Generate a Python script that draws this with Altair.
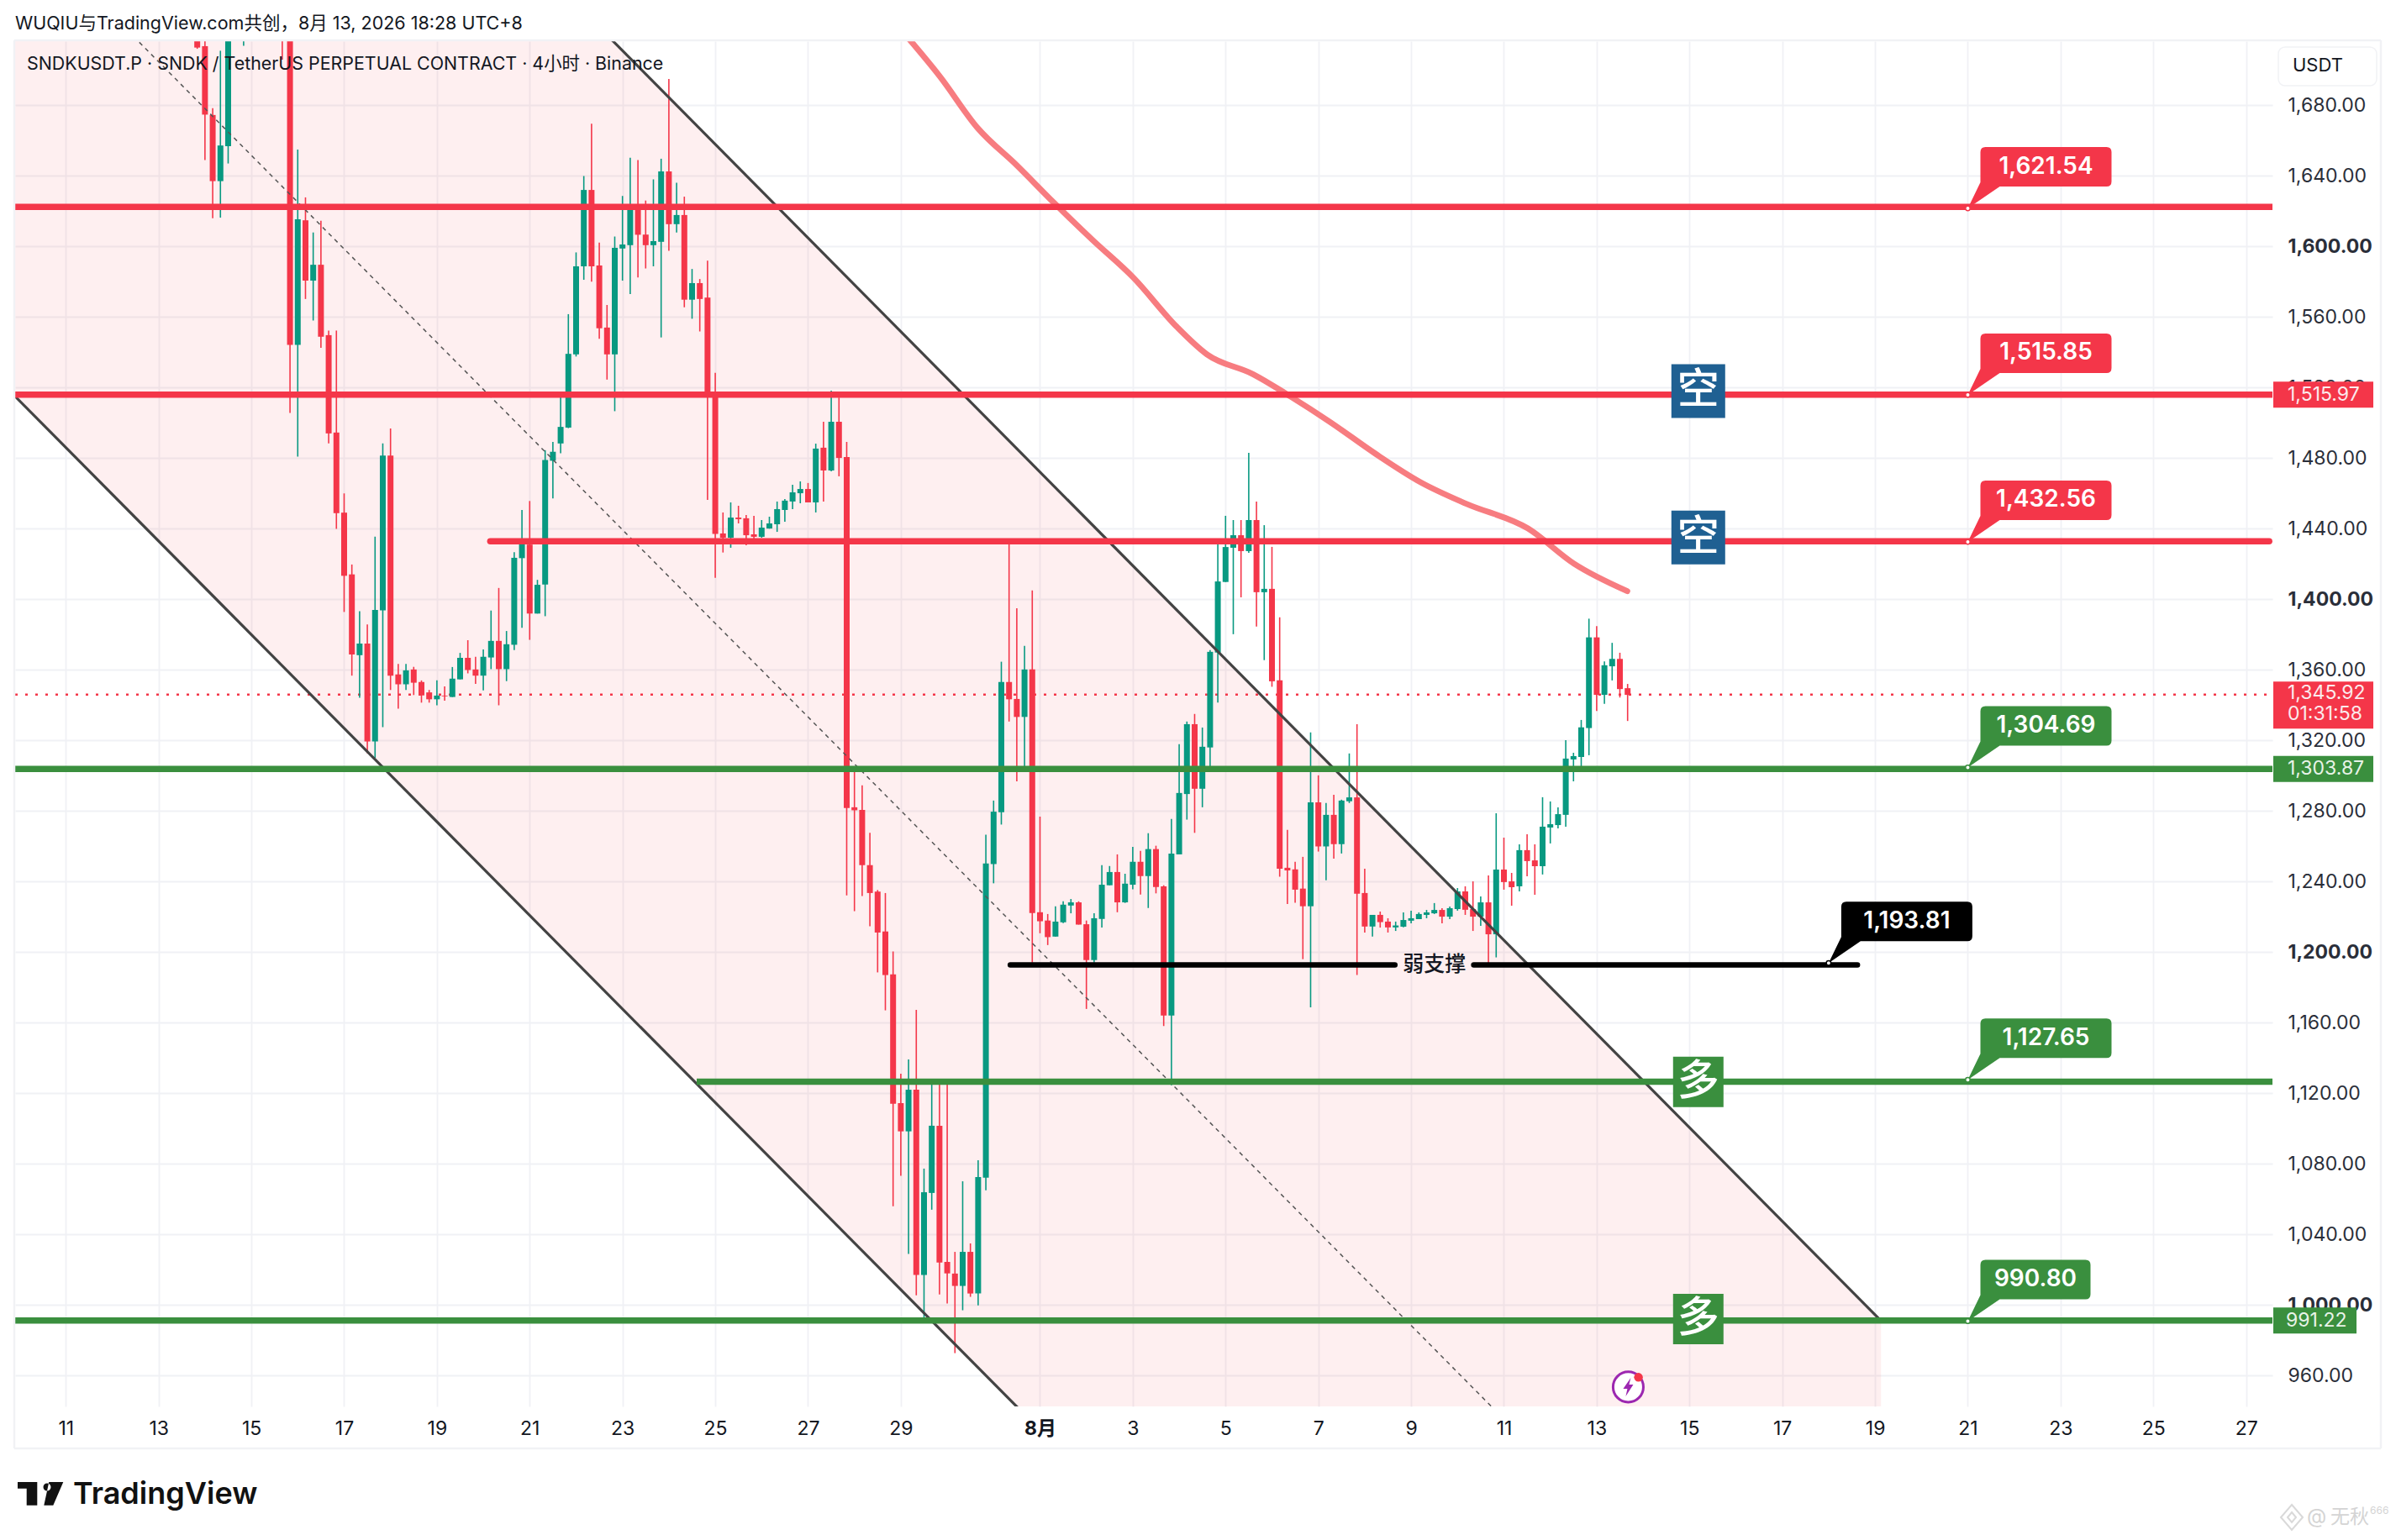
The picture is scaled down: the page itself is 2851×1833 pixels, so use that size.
import altair as alt
import pandas as pd

first_candle = 17
opens = [1722,1713.5,1674.5,1637,1656.8,1730,1760,1790,1800,1795,
1790,1780,1730,1544.2,1614.8,1580.6,1589.6,1549.7,1494.5,1449.1,
1414.1,1368.3,1374.9,1319.4,1393.7,1481.5,1357.4,1351.8,1360.2,1353.1,
1347.2,1343.3,1345.4,1344.6,1354.6,1366.8,1360.2,1356.7,1367,1376.4,
1360.4,1374.2,1423.3,1431,1391.9,1408.4,1478.5,1488.3,1497.3,1538.8,
1588.7,1632,1589.2,1554,1538.8,1598.8,1600.7,1621.6,1606.7,1600.7,
1602.6,1642.5,1612.6,1617.8,1569.8,1579.2,1571,1517,1437.3,1434.9,
1446.3,1445.9,1436.8,1435.4,1440.1,1442.5,1450.6,1455.4,1460.1,1462.5,
1454.9,1485.9,1473,1500.6,1480.6,1282.1,1280.6,1249.3,1234.3,1211.7,
1187.4,1114.4,1098.4,1122,1017,1063.5,1101.6,1024.4,1017.8,1010.8,
1030.1,1006.5,1072.2,1249.9,1279.3,1353.1,1343.5,1333.3,1360.2,1222.6,
1217.9,1208.8,1216.9,1226.4,1228.2,1215.8,1195.5,1218.8,1237.9,1245.4,
1228.2,1238.2,1251.2,1243.1,1258.4,1237.3,1164,1255.4,1289.6,1329.2,
1292.6,1316,1369.8,1409.8,1429.2,1436.3,1427.3,1444.9,1404,1405.9,
1354,1247.8,1246.9,1236,1226,1284.9,1259.9,1277.8,1261.2,1285.5,
1287.7,1233.5,1214.5,1221.1,1217.3,1214,1214.4,1217.8,1218.7,1221.1,
1222,1223.9,1220.1,1224.4,1234.4,1224.4,1220.1,1228.2,1210.1,1246.8,
1240.1,1237.3,1257.8,1252,1248.7,1270.6,1272,1277.8,1309.2,1310.6,
1327,1378.4,1345.8,1362,1366.2,1349.6]
closes = [1712.7,1674.7,1637,1657.2,1730,1760,1790,1800,1795,1790,
1780,1730,1544.2,1615.4,1580.6,1589.6,1548.8,1494,1448.8,1413.3,
1368.7,1374.9,1319.4,1393.9,1481.5,1356.7,1351.8,1359.7,1352.7,1345.5,
1343.3,1345.4,1345,1355,1366.8,1359.9,1356.7,1367.4,1376.4,1360.4,
1374.5,1423.5,1431.4,1391.9,1408.2,1478.9,1483.6,1497.7,1539.1,1588.7,
1632,1588.7,1553.6,1538.8,1599.2,1601.1,1621.6,1606.6,1600.7,1603,
1642.5,1612.6,1617.8,1569.8,1579.2,1570.2,1517.5,1437,1434.9,1446.3,
1445.4,1436.3,1435.4,1440.6,1443,1451.1,1455.9,1460.6,1462.5,1454.9,
1485.4,1473,1500.6,1480.1,1281.7,1280.4,1249.3,1233.5,1211.1,1187,
1114.1,1098.4,1122,1017,1063.9,1101.6,1024.1,1017.9,1010.8,1030.1,
1006.5,1072.5,1250.3,1279.6,1353.1,1343.3,1333.3,1360.2,1222.2,1217.5,
1208.5,1217.3,1226.9,1228.2,1215.6,1195.5,1219.2,1238.2,1245.4,1228.2,
1238.8,1251.2,1243.1,1258.4,1236.9,1164,1255.9,1290.2,1329.2,1292.6,
1316.4,1370.2,1410.1,1429.6,1436.3,1427.3,1444.9,1404,1405.9,1353.5,
1247.3,1246.3,1235.4,1226,1284.9,1259.9,1277.8,1261.2,1285.9,1287.7,
1233.1,1214.5,1221.1,1217,1214,1215.1,1218.2,1219.2,1221.6,1222.5,
1223.9,1220.1,1224.9,1234.4,1224,1220.1,1228.2,1210.1,1246.8,1239.7,
1236.8,1257.8,1251.6,1248.7,1271.1,1272.5,1278.2,1309.7,1311.1,1327.4,
1378.4,1345.8,1362.6,1366.2,1349.1,1345.8]
highs = [1725,1720,1678.3,1710.9,1740,1775,1800,1810,1810,1800,
1795,1795,1735,1654.9,1627.8,1607.9,1614.5,1552.3,1552.3,1460,
1419.7,1393.2,1385.7,1435.5,1488.3,1496.8,1363.4,1363.4,1361.7,1354,
1348.6,1354,1350.6,1361.6,1369.6,1376.8,1367.4,1371.5,1393.6,1406.4,
1382,1426.7,1450.6,1455.7,1411,1484.5,1489.2,1517.5,1561.6,1596.6,
1639.9,1669.6,1602.2,1566.8,1605.6,1628.6,1650.2,1648.9,1626,1638,
1649.7,1694.9,1636.1,1628.2,1587.2,1581.5,1591.9,1528.4,1449.2,1454.9,
1453,1447.8,1447.3,1444.9,1446.8,1455.4,1456.8,1464.9,1466.8,1465.9,
1488.2,1500.6,1518.2,1514.3,1489.2,1303.9,1294.5,1267.6,1235.2,1233.5,
1200.4,1131.1,1139.2,1167.3,1077.3,1128,1128,1128,1030.1,1070.1,
1034.9,1082,1266.5,1285.9,1364.6,1431.8,1394.9,1373.6,1405,1276.8,
1221.6,1226,1228.8,1230.1,1228.8,1217.9,1222,1249.3,1248.8,1255.4,
1244.4,1259.7,1257.4,1267.4,1260.3,1237.9,1275.5,1317.9,1330.7,1335,
1327.3,1371.2,1431.4,1447.3,1444.9,1444.9,1483,1455.4,1442,1429.7,
1389.8,1269.3,1251.2,1254,1324.5,1300.2,1284.5,1289.2,1286.4,1312.6,
1329.2,1247.3,1221.1,1223,1219.2,1217.3,1222.5,1223.5,1222.5,1223.9,
1227.8,1224.9,1225.9,1236.3,1237.3,1240.1,1231.6,1243.5,1278.7,1264.9,
1244.9,1261.1,1266.8,1261.1,1287.8,1285.4,1282,1320.1,1313,1331.6,
1389,1384.8,1364.8,1375.3,1369.7,1352]
lows = [1712,1649,1616,1616.3,1647,1725,1713.7,1780,1785,1785,
1780,1705.8,1505.6,1480.8,1570.2,1558,1542.5,1488.3,1439.9,1392.8,
1356.7,1344.2,1312.8,1310,1327.5,1348.6,1338,1348.6,1345.7,1341.4,
1341.4,1339.9,1342.5,1344.6,1354.6,1358,1352,1348.4,1360.4,1339.9,
1353.6,1371.2,1383.8,1377,1391.9,1390.4,1457.2,1482.7,1497,1537.6,
1581.1,1580,1547.6,1524.5,1506.6,1580.6,1573,1582.4,1587.5,1588.7,
1548.4,1597.5,1607.9,1565.5,1559,1551.8,1456.3,1412.2,1426.5,1429.2,
1443,1430.6,1434.4,1434.9,1440,1438.2,1443.9,1451.1,1454.4,1454.9,
1449.2,1455.4,1472.5,1469.7,1232.2,1223.2,1231.8,1214.7,1188.5,1167,
1056,1073.2,1028.9,1005.5,992.9,1054,1006,1000.8,972.7,997,
1004.6,999.8,1065,1239,1272.3,1330.7,1296.8,1302.4,1194,1210.7,
1204,1208.8,1216.4,1222,1215.6,1167.8,1194,1213.9,1237.9,1222.6,
1227.9,1235.6,1232.6,1225,1233.3,1158.1,1124.5,1275.1,1275.1,1267.6,
1282.1,1305.3,1341.4,1409.8,1380.2,1401.1,1426.3,1384.5,1365.5,1350.4,
1242.7,1227.3,1228,1196,1168.7,1257,1240.7,1253,1255.9,1284.5,
1187,1211.1,1208.8,1213.9,1211.1,1212,1214,1216.3,1218.7,1219.2,
1221.6,1216.3,1218.7,1223.5,1221.1,1212,1214.9,1193,1197,1235.4,
1226.3,1234.4,1243,1232.5,1244,1261.6,1270.1,1271.1,1296.8,1302.4,
1311.6,1336.7,1340.7,1354,1344.3,1331]
assert len(opens) == len(closes) == len(highs) == len(lows)

ma_days = [29.02,29.84,30.66,31.49,32.31,33.13,34.02,34.95,35.6,36.59,37.42,38.24,39.23,40.22,41.2,42.52,43.51,44.66]
ma_vals = [1722.4,1696.4,1667,1646.2,1624.5,1603.7,1582.1,1554.4,1538.8,1527.6,1514.6,1500.7,1482.5,1466.1,1454,1440.1,1420.2,1404.6]

DAY_MIN, DAY_MAX = 9.908, 58.567
channel_days = [DAY_MIN, 50.13]
channel_upper = [2058.4, 991.0]
channel_lower = [1515.0, 448.3]
channel_mid = [1786.7, 719.65]

RED, GREEN, TEAL, BLUE = "#f43649", "#3a8f3e", "#089981", "#1f6092"
CANDLE_RED = "#f43649"
FONT = "Inter, 'Noto Sans CJK SC', sans-serif"
CJK = "'Noto Sans CJK SC', sans-serif"
INK = "#131722"

# from-day, to-day, price, colour, line end
hlines = [
    (DAY_MIN, DAY_MAX, 1622.4, RED, "butt"),
    (DAY_MIN, DAY_MAX, 1516.0, RED, "butt"),
    (20.15, DAY_MAX - 0.07, 1432.9, RED, "round"),
    (DAY_MIN, DAY_MAX, 1303.8, GREEN, "butt"),
    (31.36, 39.65, 1192.8, "#000000", "round"),
    (41.35, 49.62, 1192.8, "#000000", "round"),
    (24.6, DAY_MAX, 1126.5, GREEN, "butt"),
    (DAY_MIN, DAY_MAX, 991.2, GREEN, "butt"),
]
# text, price, anchor day, colour, bubble width
callouts = [
    ("1,621.54", 1621.54, 52, RED, 156),
    ("1,515.85", 1515.85, 52, RED, 156),
    ("1,432.56", 1432.56, 52, RED, 156),
    ("1,304.69", 1304.69, 52, GREEN, 156),
    ("1,193.81", 1193.81, 49, "#000000", 156),
    ("1,127.65", 1127.65, 52, GREEN, 156),
    ("990.80", 990.80, 52, GREEN, 131),
]
# text, price, day, colour, side
badges = [
    ("空", 1518.0, 46.19, BLUE, 64),
    ("空", 1435.0, 46.19, BLUE, 64),
    ("多", 1126.4, 46.19, GREEN, 60),
    ("多", 992.0, 46.19, GREEN, 60),
]
# text, price, colour, tag width
price_tags = [
    ("1,515.97", 1515.97, RED, 119),
    ("1,303.87", 1303.87, GREEN, 119),
    ("991.22", 991.22, GREEN, 99),
]
last_price = 1345.92
countdown = "01:31:58"
y_ticks = list(range(960, 1681, 40))
x_ticks = [11,13,15,17,19,21,23,25,27,29,32,34,36,38,40,42,44,46,48,50,52,54,56,58]

xs = alt.Scale(domain=[DAY_MIN, DAY_MAX], nice=False, zero=False)
ys = alt.Scale(domain=[942.5, 1716.33], nice=False, zero=False)
GRID = "#f0f1f5"

x_axis = alt.Axis(
    values=x_ticks, orient="bottom", domain=False, ticks=False, title=None,
    grid=True, gridColor=GRID, gridWidth=1.8, labelFont=FONT, labelFontSize=23, labelColor=INK,
    labelPadding=15, labelOverlap=False, labelFlush=False,
    labelExpr="datum.value<=31 ? ''+datum.value : (datum.value==32 ? '8月' : ''+(datum.value-31))",
    labelFontWeight={"expr": "datum.value==32 ? 700 : 400"})
y_axis = alt.Axis(
    values=y_ticks, orient="right", domain=False, ticks=False, title=None,
    grid=True, gridColor=GRID, gridWidth=1.8, labelFont=FONT, labelFontSize=23, labelColor="#2a2e39",
    labelPadding=18, labelAlign="left", labelOverlap=False, labelFlush=False,
    format=",.2f", labelFontWeight={"expr": "datum.value%200==0 ? 700 : 400"})

X = alt.X("d:Q", scale=xs, axis=x_axis)
Y = alt.Y("p:Q", scale=ys, axis=y_axis)
X2 = alt.X2("d2:Q")
Y2 = alt.Y2("p2:Q")
one = pd.DataFrame({"a": [0]})

def px(v):
    return alt.value(v - 18)

def py(v):
    return alt.value(v - 49)

def text_abs(t, x, y, size, color=INK, weight=400, align="left", font=FONT):
    return alt.Chart(pd.DataFrame({"t": [t]})).mark_text(
        align=align, baseline="middle", fontSize=size, color=color, fontWeight=weight, font=font
    ).encode(x=px(x), y=py(y), text="t:N")

def rule_abs(x1, x2, y1, y2):
    enc = {"x": px(x1), "y": py(y1)}
    if x2 is not None:
        enc["x2"] = px(x2)
    if y2 is not None:
        enc["y2"] = py(y2)
    return alt.Chart(one).mark_rule(color="#f1f2f5", strokeWidth=2.5).encode(**enc)

def shape_at(d, p, path, color, size=4):
    return alt.Chart(pd.DataFrame({"d": [d], "p": [p]})).mark_point(
        shape=path, size=size, filled=True, opacity=1, color=color, strokeWidth=0
    ).encode(x=X, y=Y)

# axes + fill
fill_df = pd.DataFrame({"d": channel_days, "p": channel_upper, "p2": channel_lower})
fill = alt.Chart(fill_df).mark_area(color="#f23645", opacity=0.08, clip=True).encode(x=X, y=Y, y2=Y2)

# candles
cdf = pd.DataFrame({"o": opens, "h": highs, "l": lows, "c": closes})
cdf["d"] = [11 + (first_candle + i) / 6 for i in range(len(cdf))]
cdf["dir"] = ["up" if c >= o else "down" for o, c in zip(opens, closes)]
candle_color = alt.Color("dir:N", scale=alt.Scale(domain=["up", "down"], range=[TEAL, CANDLE_RED]), legend=None)
wicks = alt.Chart(cdf).mark_rule(strokeWidth=1.6, clip=True).encode(
    x=X, y=alt.Y("h:Q", scale=ys, axis=y_axis), y2=alt.Y2("l:Q"), color=candle_color)
bodies = alt.Chart(cdf).mark_rule(strokeWidth=7, clip=True).encode(
    x=X, y=alt.Y("o:Q", scale=ys, axis=y_axis), y2=alt.Y2("c:Q"), color=candle_color)

dotted = alt.Chart(pd.DataFrame({"d": [DAY_MIN], "d2": [DAY_MAX], "p": [last_price]})).mark_rule(
    color=RED, strokeWidth=2.5, strokeDash=[3, 9]).encode(x=X, x2=X2, y=Y)

ma = alt.Chart(pd.DataFrame({"d": ma_days, "p": ma_vals})).mark_line(
    color="#f77c80", strokeWidth=7, clip=True, strokeCap="round", interpolate="monotone").encode(x=X, y=Y)

def chan(vals, **kw):
    return alt.Chart(pd.DataFrame({"d": channel_days, "p": vals})).mark_line(clip=True, **kw).encode(x=X, y=Y)

upper = chan(channel_upper, color="#434343", strokeWidth=3.2)
lower = chan(channel_lower, color="#434343", strokeWidth=3.2)
mid = chan(channel_mid, color="#555555", strokeWidth=1.5, strokeDash=[5, 5])

layers = [fill, dotted, wicks, bodies, ma, mid, upper, lower]

for a, b, p, col, cap in hlines:
    layers.append(alt.Chart(pd.DataFrame({"d": [a], "d2": [b], "p": [p]})).mark_rule(
        color=col, strokeWidth=7.5 if col != "#000000" else 6.5, strokeCap=cap).encode(x=X, x2=X2, y=Y))

layers.append(alt.Chart(pd.DataFrame({"d": [40.5], "p": [1192.8], "t": ["弱支撑"]})).mark_text(
    font=CJK, fontSize=25, fontWeight=500, color=INK, baseline="middle", align="center").encode(x=X, y=Y, text="t:N"))

for t, p, d, col, w in callouts:
    r = 15 + w
    path = (f"M0,0 L15,-31 L15,-67 Q15,-73 21,-73 L{r-6},-73 Q{r},-73 {r},-67 L{r},-32 Q{r},-26 {r-6},-26 "
            f"L38,-26 Z")
    layers.append(shape_at(d, p, path, col))
    layers.append(alt.Chart(pd.DataFrame({"d": [d], "p": [p]})).mark_point(
        shape="circle", size=30, filled=True, fill="#ffffff", stroke=col, strokeWidth=1.5, opacity=1).encode(x=X, y=Y))
    layers.append(alt.Chart(pd.DataFrame({"d": [d], "p": [p], "t": [t]})).mark_text(
        font=FONT, fontSize=28, fontWeight=600, color="#ffffff", dx=15 + w / 2, dy=-49.5,
        align="center", baseline="middle").encode(x=X, y=Y, text="t:N"))

for t, p, d, col, s in badges:
    layers.append(alt.Chart(pd.DataFrame({"d": [d], "p": [p], "t": [t]})).mark_point(
        shape="square", size=s * s, filled=True, opacity=1, color=col, strokeWidth=0).encode(x=X, y=Y))
    layers.append(alt.Chart(pd.DataFrame({"d": [d], "p": [p], "t": [t]})).mark_text(
        font=CJK, fontSize=50, fontWeight=500, color="#ffffff", baseline="middle", align="center"
    ).encode(x=X, y=Y, text="t:N"))

for t, p, col, w in price_tags:
    layers.append(alt.Chart(pd.DataFrame({"p": [p]})).mark_point(
        shape=f"M0,-15.5 H{w} V15.5 H0 Z", size=4, filled=True, opacity=1, color=col, strokeWidth=0
    ).encode(x=px(2705), y=Y))
    layers.append(alt.Chart(pd.DataFrame({"p": [p], "t": [t]})).mark_text(
        font=FONT, fontSize=23, color="#fbeaec" if col == RED else "#e8f3e8", align="left", baseline="middle"
    ).encode(x=px(2722 if w > 100 else 2720), y=Y, text="t:N"))

layers.append(alt.Chart(pd.DataFrame({"p": [last_price]})).mark_point(
    shape="M0,-15.5 H119 V40.5 H0 Z", size=4, filled=True, opacity=1, color=RED, strokeWidth=0
).encode(x=px(2705), y=Y))
layers.append(alt.Chart(pd.DataFrame({"p": [last_price], "t": ["1,345.92"]})).mark_text(
    font=FONT, fontSize=23, color="#fbeaec", align="left", baseline="middle", dy=-1.5
).encode(x=px(2722), y=Y, text="t:N"))
layers.append(alt.Chart(pd.DataFrame({"p": [last_price], "t": [countdown]})).mark_text(
    font=FONT, fontSize=23, color="#fbeaec", align="left", baseline="middle", dy=23.5
).encode(x=px(2722), y=Y, text="t:N"))

# lightning badge
bolt_d, bolt_p = 44.68, 953.5
layers.append(alt.Chart(pd.DataFrame({"d": [bolt_d], "p": [bolt_p]})).mark_point(
    shape="circle", size=1300, filled=True, fill="#ffffff", stroke="#9c27b0", strokeWidth=3, opacity=1).encode(x=X, y=Y))
layers.append(shape_at(bolt_d, bolt_p, "M3,-11 L-6,2 L-1,2 L-3,11 L6,-3 L1,-3 Z", "#9c27b0"))
layers.append(alt.Chart(pd.DataFrame({"d": [44.9], "p": [959.0]})).mark_point(
    shape="circle", size=110, filled=True, color=RED, strokeWidth=0, opacity=1).encode(x=X, y=Y))

# frame
layers += [rule_abs(17, 2833, 48, None), rule_abs(17, 2833, 1724, None),
           rule_abs(17, None, 48, 1724), rule_abs(2833, None, 48, 1724)]

# chrome
layers.append(alt.Chart(one).mark_rect(fill="#ffffff", stroke="#f1f2f5", strokeWidth=1.5, cornerRadius=8).encode(
    x=px(2711), x2=px(2828), y=py(56), y2=py(102)))
layers.append(text_abs("USDT", 2728, 78, 22))
layers.append(text_abs("WUQIU与TradingView.com共创，8月 13, 2026 18:28 UTC+8", 18, 28.5, 21.5))
layers.append(text_abs("SNDKUSDT.P · SNDK / TetherUS PERPETUAL CONTRACT · 4小时 · Binance", 32, 77, 21.4))

# logo
logo = ("M0,0 H23.3 V27.7 H10.7 V7.7 H0 Z "
        "M39.5,6 a4.5,4.5 0 1 0 -9,0 a4.5,4.5 0 1 0 9,0 Z "
        "M37.3,0 H54.3 L42.3,27.7 H31.3 Z")
layers.append(alt.Chart(one).mark_point(shape=logo, size=4, filled=True, opacity=1, color="#111111", strokeWidth=0).encode(
    x=px(21), y=py(1764)))
layers.append(text_abs("TradingView", 87, 1779, 36, color="#111111", weight=600))

# watermark
layers.append(alt.Chart(one).mark_point(shape="M0,-15 L13,0 L0,15 L-13,0 Z M0,-6 L5,0 L0,6 L-5,0 Z", size=4,
    filled=False, opacity=1, color="#d9d9d9", strokeWidth=2).encode(x=px(2727), y=py(1806)))
layers.append(text_abs("@", 2745, 1806, 24, color="#d4d4d4"))
layers.append(text_abs("无秋", 2773, 1806, 23, color="#d4d4d4", font=CJK))
layers.append(text_abs("666", 2820, 1798, 12, color="#d4d4d4"))

chart = alt.layer(*layers).properties(
    width=2686, height=1625,
    padding={"left": 10, "top": 41, "right": 139, "bottom": 150},
    autosize=alt.AutoSizeParams(type="none", contains="content"),
    background="#ffffff",
).configure_view(stroke=None).configure_axis(zindex=0)

chart.save("out.html", embed_options={"renderer": "svg", "actions": False})
